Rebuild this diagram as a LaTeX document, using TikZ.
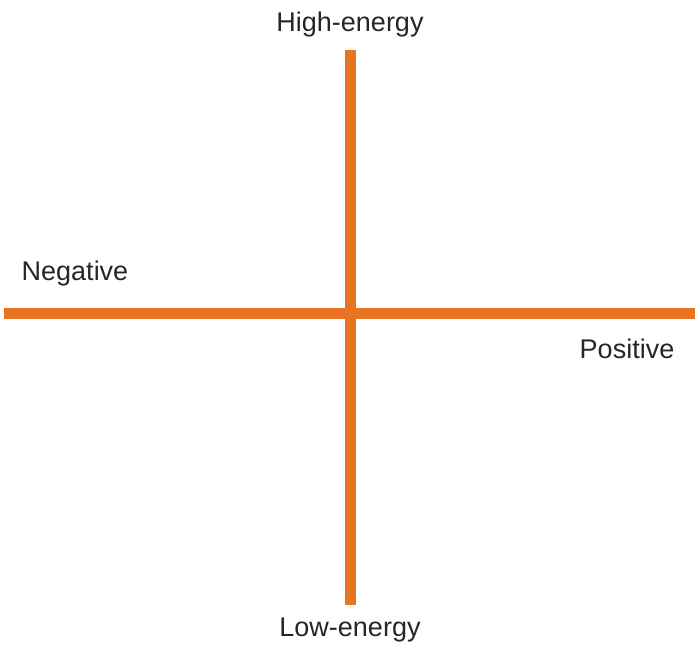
\documentclass[tikz,border=0pt]{standalone}
\usepackage{fontspec}
\setmainfont{Liberation Sans}
\definecolor{axisorange}{RGB}{232,115,34}
\begin{document}
\begin{tikzpicture}[x=1pt,y=1pt,
  axis/.style={draw=axisorange,line width=11pt},
  lbl/.style={font=\fontsize{27}{32}\selectfont,text=black!85,inner sep=0pt}]
\useasboundingbox (0,0) rectangle (695,652);
\coordinate (top) at (350,602);
\coordinate (bot) at (350,47);
\coordinate (left) at (4,338);
\coordinate (right) at (695,338);
\draw[axis] (top) -- (bot);
\draw[axis] (left) -- (right);
\node[lbl] (high) at (350,627) {High-energy};
\node[lbl] (low) at (350,22) {Low-energy};
\node[lbl] (neg) at (75,378) {Negative};
\node[lbl] (pos) at (627,303) {Positive};
\end{tikzpicture}
\end{document}
